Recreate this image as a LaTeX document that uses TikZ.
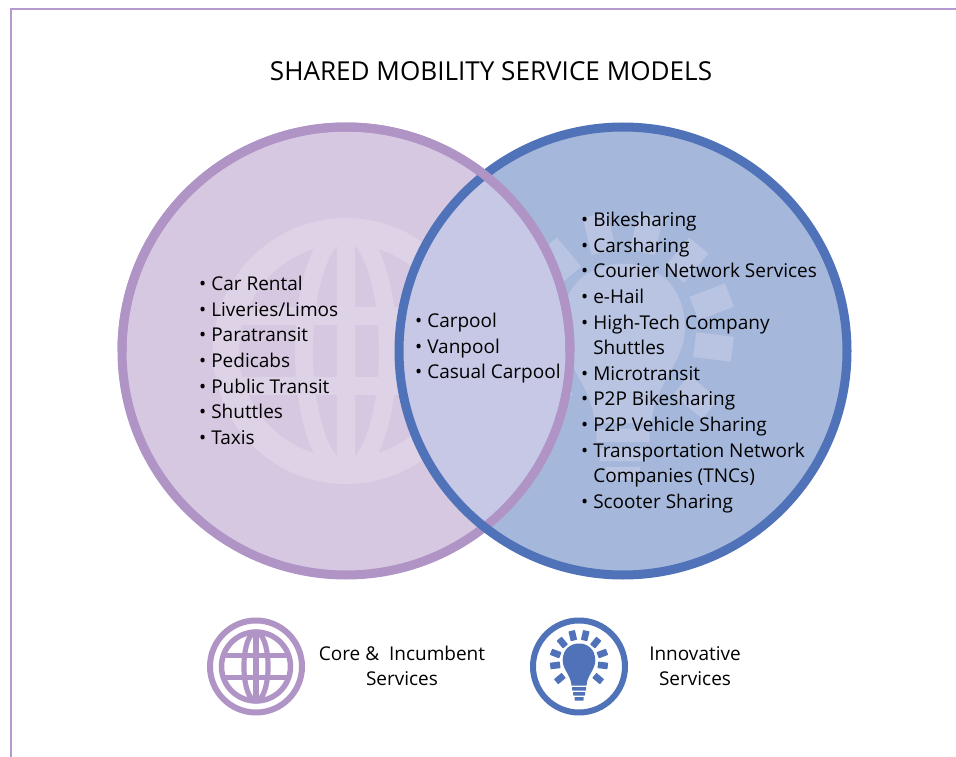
\documentclass[tikz,border=0pt]{standalone}
\usepackage{fontspec}
\setmainfont{Open Sans}
\definecolor{purp}{HTML}{B094C6}
\definecolor{purpfill}{HTML}{D6C8E0}
\definecolor{purpmark}{HTML}{DDD2E6}
\definecolor{blu}{HTML}{4F72B8}
\definecolor{blufill}{HTML}{A5B7DA}
\definecolor{blumark}{HTML}{B8C4E2}
\definecolor{mixfill}{HTML}{C6C8E6}
\definecolor{framec}{HTML}{B59AD0}
\newcommand{\listfont}{\fontsize{19}{25.6}\selectfont}
\newcommand{\globeicon}[5]{% centre, scale, colour, ring width, bar offset
  \begin{scope}[shift={(#1)},scale=#2,draw=#3,line width=#2*15pt]
    \draw[line width=#4] (0,0) circle[radius=100];
    \draw (0,0) ellipse[x radius=35,y radius=100];
    \draw (0,-100) -- (0,100);
    \draw (-95,#5) -- (95,#5);
    \draw (-95,-#5) -- (95,-#5);
  \end{scope}}
\newcommand{\bulbicon}[3]{% centre, scale, colour
  \begin{scope}[shift={(#1)},scale=#2]
    \fill[#3] (-7.5,-19) -- (7.5,-19)
      .. controls (8,-9) and (16.3,-3) .. (16.3,6)
      .. controls (16.3,17) and (9,23) .. (0,23)
      .. controls (-9,23) and (-16.3,17) .. (-16.3,6)
      .. controls (-16.3,-3) and (-8,-9) .. (-7.5,-19) -- cycle;
    \fill[#3,rounded corners=.5] (-7,-24) rectangle (7,-20.5);
    \fill[#3,rounded corners=.5] (-6,-29) rectangle (6,-25.5);
    \fill[#3,rounded corners=.5] (-4.5,-34) rectangle (4.5,-30.5);
    \foreach \a/\r in {77/27.6,50/26,21/25,-7/24,-40/25,103/27.6,130/26,159/25,187/24,220/25}{
      \begin{scope}[shift={(0,4)},rotate=\a]
        \fill[#3,rounded corners=.5] (\r-5,-3.3) rectangle (\r+5,3.3);
      \end{scope}}
  \end{scope}}
\begin{document}
\begin{tikzpicture}[x=1pt,y=1pt,
  lst/.style={font=\listfont,align=left,anchor=north west,inner sep=0pt,text=black},
  capt/.style={font=\listfont,align=center,inner sep=0pt,text=black}]
\useasboundingbox (0,-757) rectangle (956,0);
\fill[white] (0,-757) rectangle (956,0);
\draw[framec,line width=2pt] (10.5,-757) -- (10.5,-9.5) -- (956,-9.5);
\coordinate (L) at (346,-351);
\coordinate (R) at (623,-351);
\fill[purpfill] (L) circle[radius=224];
\begin{scope}
  \clip (L) circle[radius=224];
  \globeicon{L}{1.2}{purpmark}{26pt}{29}
\end{scope}
\fill[blufill] (R) circle[radius=224];
\begin{scope}
  \clip (R) circle[radius=224];
  \bulbicon{R}{3.8}{blumark}
\end{scope}
\begin{scope}
  \clip (L) circle[radius=224];
  \fill[mixfill] (R) circle[radius=224];
\end{scope}
\draw[purp,line width=9pt] (L) circle[radius=224];
\draw[blu,line width=9pt] (R) circle[radius=224];
\begin{scope}
  \clip (0,-351) rectangle (956,0);
  \draw[purp,line width=9pt] (L) circle[radius=224];
\end{scope}
\node[inner sep=0pt,font=\fontsize{26.1}{30}\selectfont,text=black] (title) at (491,-71) {SHARED MOBILITY SERVICE MODELS};
\node[lst] (core) at (199,-276) {• Car Rental\\• Liveries/Limos\\• Paratransit\\• Pedicabs\\• Public Transit\\• Shuttles\\• Taxis};
\node[lst] (both) at (415,-313) {• Carpool\\• Vanpool\\• Casual Carpool};
\node[lst] (innov) at (581,-212) {• Bikesharing\\• Carsharing\\• Courier Network Services\\• e-Hail\\• High-Tech Company\\\phantom{• }Shuttles\\• Microtransit\\• P2P Bikesharing\\• P2P Vehicle Sharing\\• Transportation Network\\\phantom{• }Companies (TNCs)\\• Scooter Sharing};
\coordinate (GI) at (256,-666.5);
\coordinate (BI) at (579,-666.5);
\draw[purp,line width=6pt] (GI) circle[radius=46];
\globeicon{GI}{.345}{purp}{5.5pt}{33}
\draw[blu,line width=6pt] (BI) circle[radius=46];
\bulbicon{BI}{1}{blu}
\node[capt] (capcore) at (402,-666) {Core \&\ \ Incumbent\\Services};
\node[capt] (capinnov) at (695,-666) {Innovative\\Services};
\end{tikzpicture}
\end{document}
